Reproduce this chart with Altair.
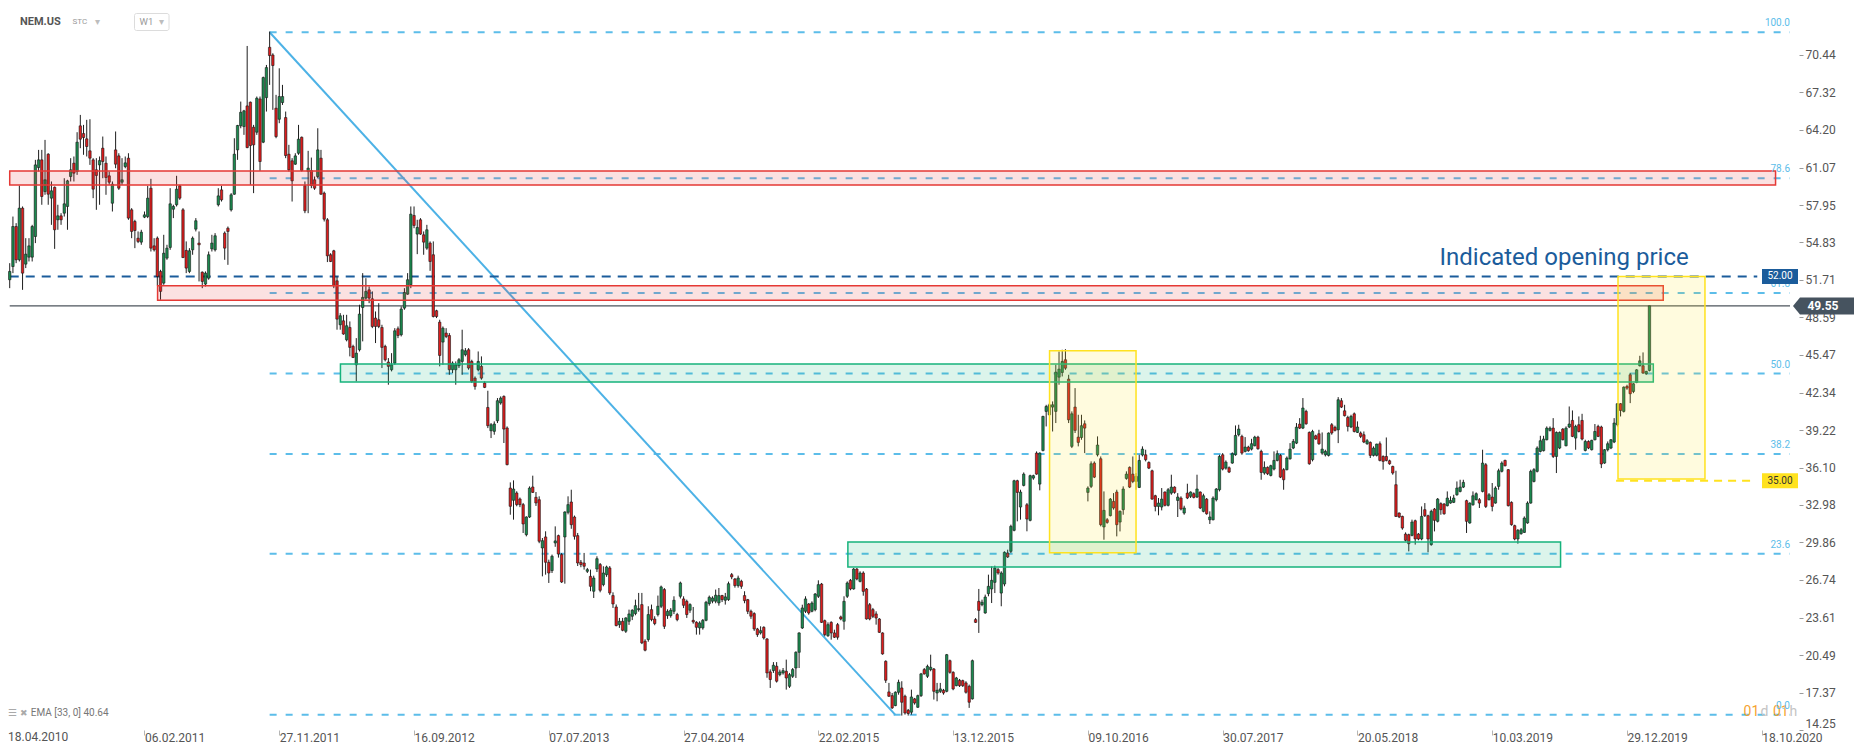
import json
import altair as alt
import pandas as pd

# ---------------- weekly candles, NEM.US (W1) ----------------
opens = [
    51.73, 52.83, 56.16, 53.39, 57.69, 53.03, 53.61, 53.61, 55.33, 61.07,
    61.71, 59.07, 62.18, 58.52, 59.43, 56.72, 57.05, 57.27, 57.83, 60.32,
    61.43, 60.74, 64.54, 63.90, 63.46, 62.46, 61.71, 60.88, 61.29, 62.68,
    61.43, 60.38, 58.10, 62.54, 62.04, 59.85, 61.15, 61.85, 57.55, 56.58,
    55.19, 54.86, 56.94, 56.99, 59.35, 54.55, 55.19, 52.42, 51.45, 53.53,
    54.42, 57.60, 57.97, 59.55, 57.55, 54.17, 52.42, 54.22, 55.94, 54.78,
    52.36, 51.37, 51.86, 54.30, 54.22, 57.97, 59.21, 55.61, 56.02, 57.55,
    58.85, 62.54, 64.54, 64.48, 66.20, 66.51, 64.43, 64.01, 66.78, 63.18,
    66.89, 71.08, 70.44, 66.01, 65.09, 66.48, 65.23, 62.18, 61.63, 61.35,
    62.26, 63.59, 59.57, 60.74, 60.82, 60.05, 60.32, 61.85, 58.94, 56.72,
    53.81, 54.14, 51.64, 47.98, 48.31, 46.73, 47.76, 46.18, 44.65, 45.90,
    49.42, 50.20, 50.89, 50.14, 48.54, 48.40, 47.76, 46.18, 44.88, 44.24,
    44.79, 47.65, 47.15, 49.37, 50.53, 51.31, 57.08, 55.53, 56.72, 55.47,
    54.36, 54.78, 53.81, 49.15, 48.20, 46.54, 47.29, 47.09, 44.24, 44.24,
    44.57, 44.93, 45.49, 45.90, 44.93, 43.54, 44.24, 44.52, 43.13, 41.10,
    39.16, 39.11, 39.99, 41.47, 42.02, 39.39, 34.39, 33.37, 33.98, 33.48,
    33.01, 30.51, 31.98, 34.48, 33.62, 33.42, 29.40, 30.32, 28.21, 27.52,
    29.82, 30.43, 28.85, 30.32, 32.37, 33.23, 31.98, 30.43, 28.21, 28.15,
    27.46, 27.04, 25.80, 27.65, 28.02, 26.35, 27.18, 27.74, 25.44, 24.49,
    23.02, 23.30, 22.47, 23.30, 23.72, 23.94, 24.27, 24.69, 21.64, 21.78,
    24.27, 23.49, 23.86, 24.55, 25.94, 23.77, 23.77, 24.13, 23.86, 25.38,
    25.16, 24.96, 24.22, 23.38, 23.22, 22.75, 22.75, 23.38, 24.77, 24.97,
    24.97, 24.83, 25.44, 25.05, 25.10, 27.18, 26.82, 26.27, 26.63, 25.44,
    25.10, 24.13, 23.94, 22.66, 22.33, 22.80, 21.83, 19.09, 19.20, 19.56,
    18.86, 19.00, 19.14, 17.89, 18.72, 19.41, 20.72, 22.74, 24.13, 24.74,
    24.13, 24.27, 25.38, 26.40, 23.35, 22.10, 23.21, 22.33, 23.02, 23.66,
    23.30, 25.38, 26.71, 25.99, 27.65, 26.62, 27.32, 25.99, 24.68, 24.27,
    23.91, 23.49, 22.33, 19.97, 17.42, 17.11, 16.28, 17.39, 17.75, 17.06,
    15.89, 15.73, 16.84, 16.14, 17.11, 19.28, 18.72, 19.28, 19.33, 17.33,
    17.47, 17.56, 17.47, 20.02, 19.05, 17.94, 18.39, 18.36, 18.17, 17.89,
    16.84, 23.44, 24.96, 24.68, 23.99, 25.60, 25.99, 26.54, 27.60, 25.65,
    26.40, 28.98, 29.12, 30.87, 35.00, 32.81, 34.61, 33.00, 31.70, 35.22,
    37.30, 34.72, 37.52, 40.77, 40.49, 41.13, 40.77, 43.62, 44.01, 45.07,
    43.46, 37.86, 41.13, 38.63, 38.60, 39.74, 34.03, 34.53, 36.47, 37.16,
    36.83, 31.15, 31.75, 32.09, 33.28, 34.06, 31.56, 32.59, 35.19, 36.11,
    35.55, 34.94, 34.44, 37.14, 37.16, 36.52, 35.83, 33.75, 32.86, 32.81,
    34.06, 32.95, 33.97, 34.47, 33.36, 33.56, 32.31, 33.97, 33.70, 33.92,
    33.64, 34.06, 32.45, 33.47, 31.75, 31.75, 33.42, 34.25, 37.16, 36.05,
    36.08, 36.47, 37.16, 38.83, 38.69, 37.44, 37.80, 37.63, 37.91, 38.63,
    37.44, 35.64, 36.11, 35.44, 35.97, 36.69, 37.11, 35.92, 35.92, 36.83,
    37.72, 38.13, 39.71, 39.38, 40.77, 39.02, 36.75, 38.74, 38.91, 37.30,
    37.16, 37.11, 39.66, 39.44, 39.24, 41.66, 40.82, 40.27, 39.47, 40.57,
    39.02, 38.97, 38.83, 38.08, 38.19, 37.11, 37.11, 38.08, 37.02, 37.02,
    36.66, 36.19, 34.67, 32.31, 32.03, 30.56, 30.51, 30.45, 31.67, 30.56,
    30.15, 32.59, 32.09, 29.68, 32.64, 31.62, 33.09, 33.06, 32.92, 33.14,
    33.20, 33.83, 34.11, 34.47, 33.34, 31.48, 33.00, 33.42, 33.42, 34.11,
    36.33, 33.42, 33.64, 33.14, 34.53, 35.78, 36.69, 35.92, 33.20, 31.26,
    30.15, 30.59, 30.70, 31.48, 33.14, 34.94, 35.78, 37.44, 37.50, 38.41,
    39.19, 39.38, 37.02, 37.72, 39.30, 37.91, 39.47, 40.02, 38.55, 39.66,
    40.02, 37.52, 38.27, 37.58, 38.41, 39.52, 39.47, 36.47, 37.58, 37.72,
    38.22, 39.66, 41.41, 40.77, 42.85, 43.82, 42.43, 43.18, 44.57, 44.57,
    43.90, 44.18,
]
highs = [
    53.11, 56.99, 56.44, 59.57, 57.83, 55.19, 55.19, 56.30, 61.71, 62.54,
    62.54, 63.37, 62.26, 59.91, 59.49, 57.97, 57.27, 60.18, 60.05, 61.85,
    61.99, 64.01, 65.45, 64.62, 65.04, 65.09, 61.85, 61.85, 61.99, 63.65,
    61.99, 60.74, 59.91, 64.07, 62.26, 61.85, 61.99, 62.26, 57.69, 56.72,
    55.75, 55.89, 57.41, 59.55, 60.13, 55.19, 55.33, 52.56, 55.47, 54.64,
    59.35, 57.97, 60.38, 59.63, 57.69, 54.92, 54.36, 55.33, 56.86, 55.75,
    52.42, 52.42, 54.08, 55.47, 55.61, 59.35, 59.55, 55.75, 56.16, 58.94,
    63.51, 64.62, 66.56, 65.87, 71.19, 66.56, 64.62, 66.98, 66.98, 68.64,
    69.61, 72.39, 70.58, 67.12, 69.33, 67.95, 65.73, 62.96, 61.85, 62.26,
    64.62, 63.65, 59.91, 62.46, 61.90, 60.32, 64.34, 62.54, 59.07, 56.86,
    53.94, 54.22, 52.00, 48.95, 48.81, 48.81, 48.26, 46.32, 46.87, 49.65,
    52.28, 51.86, 51.17, 50.76, 49.09, 49.78, 47.98, 46.32, 45.21, 45.62,
    47.70, 47.84, 49.51, 51.03, 52.28, 57.83, 57.83, 56.72, 56.86, 55.75,
    56.30, 54.92, 54.92, 49.23, 48.40, 47.84, 47.70, 47.29, 44.93, 44.93,
    45.21, 47.57, 46.04, 46.04, 45.07, 43.68, 45.76, 45.35, 43.27, 42.49,
    39.80, 39.94, 41.88, 42.02, 42.10, 39.52, 34.86, 35.03, 34.12, 33.60,
    33.15, 32.04, 34.53, 35.42, 34.06, 33.70, 30.23, 30.79, 28.43, 28.85,
    31.20, 30.51, 28.98, 32.45, 33.70, 34.25, 32.10, 30.65, 28.40, 28.99,
    27.74, 27.60, 27.10, 28.71, 28.15, 27.88, 27.93, 27.90, 25.71, 24.70,
    23.58, 23.58, 23.63, 24.27, 24.30, 25.10, 25.66, 25.66, 21.80, 24.55,
    24.69, 23.72, 25.44, 26.27, 26.07, 24.30, 24.40, 25.38, 24.00, 26.60,
    25.38, 25.10, 24.80, 24.49, 23.30, 23.30, 23.49, 25.00, 25.44, 25.38,
    25.94, 26.07, 25.50, 25.66, 26.60, 27.32, 26.90, 27.10, 26.76, 25.80,
    25.16, 24.27, 24.05, 22.75, 22.88, 22.88, 21.90, 19.30, 19.90, 19.90,
    19.28, 19.41, 20.11, 19.00, 19.41, 20.80, 22.38, 24.68, 25.38, 24.82,
    24.96, 25.65, 26.71, 26.49, 23.44, 23.21, 23.30, 22.60, 23.16, 23.77,
    25.38, 26.62, 26.82, 27.73, 27.73, 27.46, 27.46, 26.07, 24.82, 24.41,
    24.13, 23.57, 22.38, 20.05, 18.17, 17.33, 17.47, 18.44, 18.31, 17.19,
    16.00, 17.61, 16.92, 17.19, 19.00, 19.41, 19.69, 20.52, 19.41, 18.17,
    18.17, 17.67, 20.58, 20.11, 19.14, 18.67, 18.50, 18.44, 18.31, 18.03,
    20.11, 23.57, 25.99, 25.10, 25.52, 27.18, 27.87, 27.93, 27.73, 27.46,
    29.12, 29.26, 31.34, 35.08, 35.08, 34.25, 35.69, 33.14, 35.50, 35.50,
    37.44, 37.36, 40.41, 41.32, 41.46, 41.60, 44.65, 45.76, 45.90, 45.95,
    43.82, 40.77, 42.71, 40.49, 40.49, 40.02, 34.53, 36.61, 36.61, 38.69,
    37.02, 34.11, 31.89, 33.56, 33.97, 34.25, 32.53, 34.53, 35.78, 36.19,
    37.02, 35.64, 37.16, 37.86, 37.58, 36.61, 35.92, 33.83, 33.56, 34.39,
    34.11, 34.39, 35.50, 34.53, 33.97, 33.70, 32.92, 34.75, 34.11, 34.03,
    35.50, 34.11, 33.92, 33.56, 32.45, 33.70, 34.39, 37.16, 37.30, 36.69,
    36.19, 37.36, 39.60, 39.66, 38.83, 38.63, 37.91, 38.49, 38.74, 38.74,
    37.58, 36.61, 36.19, 36.33, 37.44, 37.52, 37.22, 36.05, 37.02, 38.13,
    38.47, 39.80, 40.21, 41.88, 40.91, 39.10, 39.24, 38.83, 39.24, 39.02,
    37.58, 39.02, 39.80, 39.58, 41.96, 41.88, 41.32, 40.41, 40.49, 40.68,
    39.94, 39.10, 39.10, 38.47, 38.27, 37.86, 38.08, 38.27, 37.11, 38.60,
    36.75, 36.25, 35.83, 32.36, 32.09, 30.70, 30.59, 31.76, 31.76, 30.65,
    32.86, 33.14, 32.17, 32.59, 32.73, 33.56, 33.20, 33.14, 34.11, 33.70,
    33.83, 34.94, 35.08, 35.08, 33.42, 33.20, 34.11, 34.03, 33.56, 37.58,
    36.47, 33.97, 34.81, 34.53, 36.00, 36.61, 36.75, 35.97, 33.28, 31.34,
    30.98, 31.06, 32.03, 33.28, 35.92, 36.05, 37.86, 38.74, 38.74, 39.52,
    39.52, 40.21, 39.10, 39.10, 39.38, 39.52, 41.18, 40.85, 39.66, 40.35,
    40.57, 38.41, 38.36, 38.41, 39.72, 39.66, 39.58, 37.63, 38.27, 38.47,
    40.21, 41.46, 41.46, 42.85, 42.99, 43.96, 43.12, 44.29, 45.40, 45.68,
    44.15, 49.56,
]
lows = [
    51.03, 52.28, 53.11, 53.25, 50.89, 52.70, 53.25, 53.25, 54.78, 60.74,
    57.97, 58.80, 57.97, 56.30, 54.30, 55.89, 56.30, 56.99, 55.89, 59.91,
    59.91, 60.46, 62.68, 62.13, 61.99, 61.29, 58.52, 57.55, 57.97, 60.18,
    58.80, 59.63, 57.41, 61.01, 59.21, 59.63, 61.01, 56.72, 55.19, 54.36,
    54.78, 54.64, 56.86, 56.86, 54.08, 54.08, 51.25, 50.06, 51.31, 53.39,
    54.22, 56.86, 57.83, 58.38, 53.53, 52.28, 52.28, 53.81, 55.75, 51.59,
    51.03, 51.17, 51.73, 54.08, 54.08, 57.83, 58.24, 53.39, 52.97, 57.41,
    58.80, 61.71, 64.34, 63.79, 62.68, 59.63, 58.94, 63.79, 60.79, 63.10,
    65.73, 67.95, 65.87, 63.51, 64.76, 66.28, 61.85, 60.74, 58.24, 61.29,
    62.13, 60.74, 57.27, 57.27, 59.35, 59.21, 60.18, 58.80, 56.58, 53.20,
    53.20, 51.03, 47.57, 47.57, 47.15, 46.60, 45.35, 45.21, 43.27, 45.76,
    46.60, 50.06, 49.78, 47.70, 46.46, 47.70, 44.38, 44.93, 42.99, 44.10,
    44.65, 46.87, 47.01, 49.23, 50.48, 51.03, 56.02, 53.86, 55.47, 53.81,
    54.22, 52.47, 48.59, 48.54, 44.52, 44.65, 46.87, 43.82, 43.96, 42.99,
    44.38, 43.82, 45.35, 44.24, 43.13, 42.58, 44.10, 43.41, 42.71, 39.38,
    38.55, 38.83, 39.80, 41.33, 38.14, 36.28, 32.17, 31.76, 32.87, 32.80,
    30.65, 30.37, 31.90, 33.98, 32.90, 29.80, 27.04, 27.18, 26.49, 27.32,
    29.50, 28.60, 26.49, 26.43, 32.20, 31.00, 30.10, 27.90, 27.80, 27.60,
    27.32, 25.80, 25.24, 27.40, 25.71, 26.21, 27.00, 25.50, 24.41, 22.88,
    22.75, 22.47, 22.33, 23.00, 23.40, 23.80, 24.10, 21.40, 20.80, 21.60,
    23.30, 22.97, 23.70, 24.40, 22.66, 23.50, 23.60, 23.90, 23.30, 25.20,
    24.40, 23.58, 24.00, 23.10, 22.19, 22.19, 22.60, 23.30, 24.60, 24.80,
    24.80, 24.60, 24.90, 24.69, 25.00, 26.80, 26.10, 26.10, 26.00, 24.80,
    23.90, 23.50, 22.50, 22.00, 22.20, 21.78, 18.60, 17.75, 19.00, 18.20,
    18.72, 18.86, 17.61, 17.75, 18.58, 18.58, 19.41, 22.66, 23.99, 23.85,
    24.05, 24.13, 25.24, 23.16, 22.05, 22.00, 21.77, 21.91, 21.77, 23.38,
    22.60, 25.24, 25.88, 25.93, 26.71, 26.54, 25.43, 23.44, 23.38, 23.57,
    23.02, 22.33, 20.52, 18.17, 17.00, 16.00, 16.23, 17.19, 15.45, 15.53,
    15.45, 15.53, 16.36, 16.09, 17.00, 18.86, 18.58, 19.14, 16.78, 16.64,
    17.33, 17.19, 17.39, 18.94, 17.56, 17.89, 17.83, 17.83, 17.28, 16.09,
    16.78, 23.16, 22.33, 24.55, 23.93, 25.38, 24.82, 25.65, 27.18, 24.55,
    26.21, 28.57, 28.98, 30.79, 31.62, 31.76, 34.53, 30.79, 31.62, 35.08,
    35.50, 34.20, 37.44, 39.52, 40.41, 39.10, 39.80, 42.99, 43.68, 44.23,
    39.80, 37.72, 38.97, 37.86, 38.41, 37.30, 33.28, 34.39, 35.22, 37.02,
    31.20, 30.09, 31.42, 32.03, 32.59, 30.37, 30.78, 32.17, 35.08, 34.39,
    34.80, 34.25, 34.39, 37.02, 36.61, 35.97, 33.42, 32.45, 32.12, 32.53,
    32.86, 32.86, 33.83, 33.92, 31.98, 32.53, 32.17, 33.47, 33.56, 33.53,
    33.56, 32.64, 32.37, 32.17, 31.40, 31.70, 33.28, 34.11, 35.86, 35.92,
    35.64, 36.41, 37.08, 38.69, 37.16, 37.36, 37.41, 37.52, 37.86, 37.58,
    35.08, 35.50, 35.47, 35.36, 35.86, 36.61, 35.22, 34.25, 35.86, 36.75,
    37.63, 38.05, 39.30, 39.30, 39.66, 36.33, 36.61, 38.41, 37.99, 37.16,
    37.02, 37.02, 38.83, 39.10, 38.13, 41.05, 40.35, 39.10, 39.38, 39.02,
    38.97, 38.55, 38.13, 37.99, 36.89, 37.02, 37.02, 36.61, 35.92, 36.61,
    36.33, 35.50, 31.98, 31.89, 30.92, 29.95, 29.12, 30.37, 29.68, 30.04,
    30.04, 31.98, 29.04, 29.59, 30.78, 31.53, 32.17, 32.17, 32.86, 33.09,
    33.14, 33.75, 34.03, 34.39, 30.65, 31.42, 32.92, 33.36, 32.73, 34.03,
    32.73, 33.36, 32.45, 33.09, 34.25, 35.69, 36.19, 32.86, 31.26, 30.04,
    29.76, 30.51, 30.65, 31.42, 33.09, 34.86, 35.69, 37.36, 37.44, 38.36,
    39.10, 36.89, 35.64, 37.63, 38.36, 37.86, 39.38, 38.63, 37.58, 39.02,
    38.36, 37.44, 37.63, 37.52, 38.36, 38.63, 36.05, 36.41, 37.44, 37.63,
    38.13, 39.52, 40.35, 40.68, 42.57, 41.46, 42.29, 43.12, 44.51, 43.90,
    43.82, 44.10,
]
closes = [
    52.42, 56.16, 53.39, 57.69, 52.28, 53.86, 54.55, 56.16, 61.29, 61.71,
    58.66, 60.05, 58.85, 59.13, 55.89, 57.05, 56.72, 58.05, 59.96, 60.88,
    60.60, 63.18, 63.43, 63.57, 62.82, 61.85, 59.27, 60.41, 61.65, 61.57,
    60.24, 59.85, 59.68, 61.35, 59.35, 60.05, 61.46, 56.86, 55.75, 55.83,
    54.92, 55.69, 57.13, 58.52, 54.36, 54.22, 52.00, 50.76, 53.94, 54.36,
    58.05, 57.83, 59.27, 58.52, 53.58, 52.70, 54.14, 55.19, 56.64, 54.64,
    51.59, 52.28, 53.81, 54.78, 55.39, 58.71, 58.38, 54.36, 55.75, 58.80,
    62.18, 64.57, 65.67, 65.79, 62.73, 62.90, 62.96, 66.84, 61.57, 68.56,
    69.39, 70.39, 69.56, 63.65, 66.98, 66.98, 62.07, 60.88, 59.96, 62.04,
    63.43, 60.82, 57.47, 61.02, 59.57, 59.35, 62.54, 58.85, 56.77, 53.72,
    53.25, 51.23, 48.45, 48.73, 47.21, 47.90, 46.10, 45.26, 45.62, 48.87,
    50.26, 50.76, 50.20, 47.84, 47.84, 47.84, 46.10, 45.07, 44.52, 44.65,
    47.48, 47.09, 49.29, 50.67, 51.73, 57.19, 56.25, 56.08, 55.53, 54.86,
    55.89, 53.25, 48.67, 48.67, 45.43, 47.70, 47.01, 44.24, 44.79, 44.65,
    45.07, 45.90, 45.82, 44.38, 43.27, 42.85, 44.93, 43.54, 42.77, 39.58,
    39.66, 39.72, 41.66, 41.88, 39.30, 36.34, 32.87, 34.31, 33.01, 33.01,
    31.40, 31.98, 34.39, 34.03, 33.15, 29.96, 30.01, 28.21, 27.32, 28.71,
    29.99, 28.90, 26.57, 32.40, 33.01, 31.34, 30.37, 28.15, 28.02, 27.88,
    27.60, 26.21, 26.90, 28.51, 25.88, 27.32, 27.82, 25.66, 24.74, 22.94,
    23.30, 22.55, 23.58, 23.91, 24.22, 24.60, 24.35, 21.50, 20.89, 23.86,
    23.44, 23.11, 24.55, 26.16, 22.88, 24.13, 24.22, 25.05, 23.44, 26.49,
    24.63, 23.86, 24.69, 23.25, 22.80, 23.16, 23.38, 24.88, 25.30, 25.24,
    25.47, 25.44, 25.10, 25.33, 26.43, 26.99, 26.27, 26.90, 26.21, 25.02,
    24.13, 23.72, 22.66, 22.19, 22.52, 21.91, 19.00, 18.45, 19.64, 18.31,
    19.08, 19.19, 18.58, 18.86, 19.28, 20.72, 22.33, 24.41, 25.16, 23.99,
    24.82, 25.57, 26.35, 23.21, 22.19, 23.02, 22.33, 21.97, 21.97, 23.49,
    24.96, 26.49, 25.99, 27.65, 26.82, 27.32, 25.79, 23.49, 23.49, 23.71,
    23.57, 22.38, 20.58, 18.39, 17.06, 16.09, 17.39, 18.22, 16.56, 15.67,
    15.62, 17.00, 16.50, 17.11, 18.92, 18.92, 19.55, 19.47, 17.47, 17.56,
    17.67, 17.33, 20.52, 19.05, 17.67, 18.58, 17.94, 17.94, 17.39, 16.56,
    20.02, 23.21, 24.21, 24.88, 25.32, 26.21, 26.71, 27.73, 27.32, 27.32,
    29.04, 28.65, 31.20, 35.00, 34.03, 34.06, 35.55, 31.81, 35.42, 35.42,
    35.55, 37.30, 40.35, 41.18, 41.32, 41.32, 44.04, 44.29, 44.93, 44.37,
    40.07, 40.57, 39.19, 38.19, 39.58, 39.38, 34.39, 36.41, 35.30, 37.97,
    31.34, 32.53, 31.53, 33.47, 32.73, 31.34, 32.45, 34.31, 35.55, 34.47,
    34.94, 35.36, 36.69, 37.63, 36.75, 36.05, 33.47, 32.86, 33.14, 33.47,
    32.95, 34.25, 34.47, 34.03, 33.64, 32.64, 32.73, 33.56, 34.06, 33.61,
    34.31, 32.73, 33.75, 32.25, 31.98, 33.56, 34.31, 37.02, 35.97, 36.55,
    35.72, 37.25, 38.77, 39.30, 37.30, 37.80, 37.50, 38.08, 38.63, 37.66,
    35.69, 36.11, 35.58, 36.25, 36.69, 37.25, 35.30, 35.08, 36.89, 37.63,
    38.27, 39.46, 39.38, 41.05, 39.74, 36.41, 39.10, 38.47, 38.08, 37.63,
    37.44, 38.97, 38.97, 39.19, 41.74, 41.13, 40.41, 39.52, 40.35, 39.10,
    39.47, 38.69, 38.22, 38.33, 37.11, 37.72, 38.05, 36.69, 36.61, 36.69,
    36.41, 35.64, 32.03, 31.98, 31.06, 30.04, 29.76, 31.56, 30.15, 30.15,
    32.03, 32.09, 30.15, 32.45, 31.70, 33.47, 32.59, 32.25, 33.56, 33.36,
    33.56, 34.39, 34.47, 34.86, 31.62, 33.14, 33.75, 33.92, 33.14, 36.47,
    32.86, 33.83, 32.86, 34.39, 35.83, 36.47, 36.25, 32.92, 31.34, 30.15,
    30.87, 30.92, 31.89, 33.14, 35.78, 35.92, 37.72, 38.33, 38.47, 39.38,
    39.38, 37.02, 39.02, 39.02, 38.41, 39.38, 39.72, 38.69, 39.52, 39.10,
    38.47, 38.27, 37.72, 38.36, 39.10, 38.69, 36.39, 37.58, 38.08, 38.41,
    39.80, 41.41, 40.85, 42.79, 42.71, 42.24, 43.07, 44.23, 44.98, 43.96,
    44.10, 49.56,
]

# x-axis labels: one every 42 candles (candle index axis)
tick_labels = ["18.04.2010", "06.02.2011", "27.11.2011", "16.09.2012", "07.07.2013",
               "27.04.2014", "22.02.2015", "13.12.2015", "09.10.2016", "30.07.2017",
               "20.05.2018", "10.03.2019", "29.12.2019", "18.10.2020"]
label_every = 42
price_ticks = [14.25, 17.37, 20.49, 23.61, 26.74, 29.86, 32.98, 36.10, 39.22, 42.34,
               45.47, 48.59, 51.71, 54.83, 57.95, 61.07, 64.20, 67.32, 70.44]

# Fibonacci retracement drawn from the 2011 high to the 2015 low
fib_names = ["100.0", "78.6", "61.8", "50.0", "38.2", "23.6", "0.0"]
fib_pcts = [100.0, 78.6, 61.8, 50.0, 38.2, 23.6, 0.0]
swing_high, swing_low = 72.33, 15.51
swing_high_week, swing_low_week = 81.0, 276.0

# zones (in candle index / price units)
zone_x0 = [0.0, 46.08, 103.07, 261.2, 324.05, 501.2]
zone_x1 = [550.3, 515.3, 512.2, 483.3, 351.0, 528.3]
zone_lo = [59.62, 50.03, 43.21, 27.82, 29.01, 35.15]
zone_hi = [60.79, 51.22, 44.71, 29.90, 45.82, 52.00]
zone_kind = ["res", "res", "sup", "sup", "box", "box"]

indicated_open = 52.00
last_price = 49.55
stop_level = 35.00
open_line_end, stop_line_start, stop_line_end = 544.6, 500.6, 543.9

# ---------------- styling ----------------
GREEN, RED = "#1b8a4f", "#dd1d1d"
FIB_BLUE, DIAG_BLUE = "#5cbde9", "#4db2e6"
DARK_BLUE, GRAY_LINE = "#1b5c9b", "#4d545c"
YELLOW = "#ffe21f"
ZONE_COLORS = {"res": "#e53935", "sup": "#16b37c", "box": "#ffe21f"}
FONT = "Roboto"

W, H = 1787, 722
X_DOM = [1.0226, 554.8]
Y_DOM = [14.25, 74.35]

x_scale = alt.Scale(domain=X_DOM, nice=False, zero=False)
y_scale = alt.Scale(domain=Y_DOM, nice=False, zero=False)

x_axis = alt.Axis(
    values=[label_every * j for j in range(1, len(tick_labels))],
    labelExpr=f"{json.dumps(tick_labels)}[round(datum.value / {label_every})]",
    title=None, grid=False, domain=False, tickSize=5, tickColor="#b5b5b5",
    labelColor="#555555", labelFontSize=12, labelFont=FONT, labelAlign="left",
    labelBaseline="top", labelPadding=-3, labelFlush=False, labelOverlap=False,
    labelBound=False,
)
y_axis = alt.Axis(
    orient="right", values=price_ticks, format=".2f", title=None, grid=False,
    domain=False, tickSize=4, tickColor="#9a9a9a", offset=4, labelPadding=2,
    labelColor="#555555", labelFontSize=12, labelFont=FONT, labelFlush=True,
    labelOverlap=False,
)


def X(field):
    return alt.X(field, type="quantitative", scale=x_scale, axis=x_axis)


def Y(field):
    return alt.Y(field, type="quantitative", scale=y_scale, axis=y_axis)


n = min(len(opens), len(highs), len(lows), len(closes))
candles = pd.DataFrame({
    "week": list(range(n)),
    "open": opens[:n], "high": highs[:n], "low": lows[:n], "close": closes[:n],
})

fib_df = pd.DataFrame({"name": fib_names, "pct": fib_pcts})
fib_df["level"] = swing_low + fib_df["pct"] / 100.0 * (swing_high - swing_low)
fib_df["x0"] = swing_high_week
fib_df["x1"] = X_DOM[1]

diag_df = pd.DataFrame({"x0": [swing_high_week], "x1": [swing_low_week],
                        "y0": [swing_high], "y1": [swing_low]})

zones_df = pd.DataFrame({"x0": zone_x0, "x1": zone_x1, "lo": zone_lo, "hi": zone_hi})
zones_df["col"] = [ZONE_COLORS[k] for k in zone_kind]

open_df = pd.DataFrame({"x0": [0.0], "x1": [open_line_end], "level": [indicated_open]})
last_df = pd.DataFrame({"x0": [0.0], "x1": [X_DOM[1]], "level": [last_price],
                        "label": [f"{last_price:.2f}"]})
stop_df = pd.DataFrame({"x0": [stop_line_start], "x1": [stop_line_end], "level": [stop_level]})
tags_df = pd.DataFrame({"level": [indicated_open, stop_level],
                        "label": [f"{indicated_open:.2f}", f"{stop_level:.2f}"]})
tags_df["fill"] = [DARK_BLUE, YELLOW]
tags_df["tcol"] = ["#ffffff", "#333333"]
ind_df = pd.DataFrame({"level": [indicated_open], "label": ["Indicated opening price"]})
one = pd.DataFrame({"a": [0]})

# ---------------- layers ----------------
fib_lines = alt.Chart(fib_df).mark_rule(color=FIB_BLUE, strokeWidth=2, strokeDash=[7, 9]).encode(
    x=X("x0"), x2="x1", y=Y("level"))
diag = alt.Chart(diag_df).mark_rule(color=DIAG_BLUE, strokeWidth=2).encode(
    x=X("x0"), x2="x1", y=Y("y0"), y2="y1")
open_line = alt.Chart(open_df).mark_rule(color=DARK_BLUE, strokeWidth=2, strokeDash=[9, 7]).encode(
    x=X("x0"), x2="x1", y=Y("level"))
last_line = alt.Chart(last_df).mark_rule(color=GRAY_LINE, strokeWidth=1.3).encode(
    x=X("x0"), x2="x1", y=Y("level"))

wicks = alt.Chart(candles).mark_rule(color="#1e1e1e", strokeWidth=1).encode(
    x=X("week"), y=Y("low"), y2="high")
bodies = alt.Chart(candles).mark_bar(width=2.4, stroke="#151515", strokeWidth=0.6).encode(
    x=X("week"), y=Y("open"), y2="close",
    color=alt.condition("datum.close >= datum.open", alt.value(GREEN), alt.value(RED)))

zones = alt.Chart(zones_df).mark_rect(fillOpacity=0.15, strokeWidth=1.5).encode(
    x=X("x0"), x2="x1", y=Y("lo"), y2="hi",
    fill=alt.Fill("col:N", scale=None), stroke=alt.Stroke("col:N", scale=None))

stop_line = alt.Chart(stop_df).mark_rule(color=YELLOW, strokeWidth=2, strokeDash=[8, 6]).encode(
    x=X("x0"), x2="x1", y=Y("level"))

fib_text = alt.Chart(fib_df).mark_text(align="right", baseline="middle", dy=-9, fontSize=10,
                                       color=FIB_BLUE, font=FONT).encode(
    x=alt.value(1782), y=Y("level"), text="name:N")

tag_rect = alt.Chart(tags_df).transform_calculate(
    lo="datum.level - 0.62", hi="datum.level + 0.62").mark_rect().encode(
    x=alt.value(1754), x2=alt.value(1790), y=Y("lo"), y2="hi",
    fill=alt.Fill("fill:N", scale=None))
tag_text = alt.Chart(tags_df).mark_text(fontSize=10, font=FONT, align="center", baseline="middle").encode(
    x=alt.value(1772), y=Y("level"), text="label:N", color=alt.Color("tcol:N", scale=None))

TAG_PATH = "M0,0 L0.82,-1 L7.18,-1 L7.18,1 L0.82,1 Z"
last_tag = alt.Chart(last_df).mark_point(shape=TAG_PATH, size=289, filled=True, color="#46535f",
                                         opacity=1, strokeWidth=0).encode(
    x=alt.value(1785), y=Y("level"))
last_text = alt.Chart(last_df).mark_text(fontSize=12, fontWeight="bold", color="#ffffff", font=FONT,
                                         align="center", baseline="middle").encode(
    x=alt.value(1815), y=Y("level"), text="label:N")

ind_text = alt.Chart(ind_df).mark_text(align="left", baseline="alphabetic", dy=-11, fontSize=24,
                                       color=DARK_BLUE, font=FONT).encode(
    x=alt.value(1431.5), y=Y("level"), text="label:N")


def label(text, x, y, size, color, weight="normal", align="left", baseline="middle"):
    return alt.Chart(one).mark_text(text=text, align=align, baseline=baseline, fontSize=size,
                                    color=color, fontWeight=weight, font=FONT).encode(
        x=alt.value(x), y=alt.value(y))


w1_box = alt.Chart(one).mark_rect(fill="white", stroke="#dcdcdc", strokeWidth=1, cornerRadius=2).encode(
    x=alt.value(126.5), x2=alt.value(161), y=alt.value(5.5), y2=alt.value(22.5))

decor = [
    label("NEM.US", 12, 14, 11, "#555555", weight="bold"),
    label("STC", 64.5, 14, 8, "#9a9a9a"),
    label("▾", 89.7, 14, 10, "#bdbdbd", align="center"),
    w1_box,
    label("W1", 131.5, 14, 9.5, "#999999"),
    label("▾", 153, 14, 10, "#bdbdbd", align="center"),
    label("☰", 0, 704.5, 10, "#aaaaaa"),
    label("✖", 12, 704.5, 9, "#aaaaaa"),
    label("EMA [33, 0] 40.64", 22.8, 704.7, 10, "#777777"),
    label("01", 1735.6, 703.5, 14, "#f5a331"),
    label("d", 1752.6, 703.5, 14, "#c4c4c4"),
    label("01", 1765, 703.5, 14, "#f5a331"),
    label("h", 1781.5, 703.5, 14, "#c4c4c4"),
    label(tick_labels[0], 0, 724, 12, "#555555", baseline="top"),
]

chart = alt.layer(
    fib_lines, diag, open_line, last_line, wicks, bodies, zones, stop_line,
    *decor[9:13], fib_text, tag_rect, tag_text, last_tag, last_text, ind_text,
    *decor[:9], decor[13],
).properties(
    width=W, height=H,
    padding={"left": 0, "top": 0, "right": 61, "bottom": 14},
    autosize=alt.AutoSizeParams(type="none"),
    background="white",
).configure_view(stroke=None)

chart.save("out.html", embed_options={"renderer": "svg", "actions": False})
